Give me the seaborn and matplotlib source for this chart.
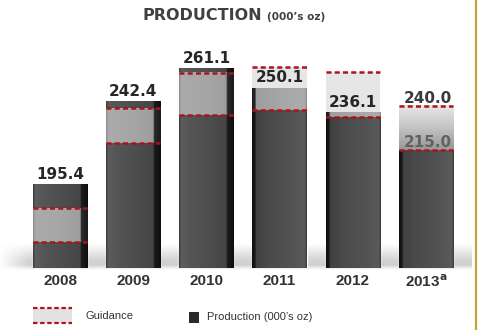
import numpy as np
import pandas as pd
import matplotlib
matplotlib.use("Agg")
import matplotlib.pyplot as plt
from matplotlib.colors import LinearSegmentedColormap
from matplotlib.patches import Rectangle
import seaborn as sns

# ---- data ----
years = ["2008", "2009", "2010", "2011", "2012", r"2013$^{\mathbf{a}}$"]
production = [195.4, 242.4, 261.1, 250.1, 236.1, 215.0]
guidance_low = [163.0, 219.0, 234.7, 237.5, 233.7, 215.0]
guidance_high = [182.2, 238.5, 258.6, 262.0, 259.0, 240.0]
value_labels = ["195.4", "242.4", "261.1", "250.1", "236.1"]
forecast_labels = ["240.0", "215.0"]

sns.set_theme(style="white")
plt.rcParams["font.family"] = ["Liberation Sans", "DejaVu Sans"]

fig = plt.figure(figsize=(4.8, 3.3), dpi=100)
fig.patch.set_facecolor("white")

# background axes in pixel coordinates
bg = fig.add_axes([0, 0, 1, 1], zorder=0)
bg.axis("off")

# floor shadow
shade = LinearSegmentedColormap.from_list(
    "shade", [(0, "#ffffff"), (0.6, "#d4d4d4"), (0.8, "#cfcfcf"), (1, "#ffffff")])
bg.imshow(np.linspace(0, 1, 256).reshape(-1, 1), cmap=shade, extent=(0, 472, 270, 244),
          aspect="auto", origin="upper", interpolation="bilinear", zorder=0)
fade = LinearSegmentedColormap.from_list("fade", [(0, (1, 1, 1, 1)), (1, (1, 1, 1, 0))])
bg.imshow(np.linspace(0, 1, 256).reshape(1, -1), cmap=fade, extent=(0, 30, 270, 244),
          aspect="auto", interpolation="bilinear", zorder=0.5)
bg.set_xlim(0, 480)
bg.set_ylim(330, 0)

# golden rule at right edge
bg.plot([475.5, 475.5], [0, 330], color="#c9a23e", lw=1.6, zorder=1)

# title
bg.text(143, 15, "PRODUCTION", fontsize=11.5, fontweight="bold", color="#404040",
        family="DejaVu Sans", ha="left", va="center")
bg.text(267, 16.5, "(000’s oz)", fontsize=7.5, fontweight="bold", color="#404040",
        family="DejaVu Sans", ha="left", va="center")

# legend (manual)
bg.add_patch(Rectangle((33, 308), 39, 15, facecolor="#e2e2e2", edgecolor="none", zorder=2))
for yy in (308, 323):
    bg.plot([33, 72], [yy, yy], color="#b5121b", lw=1.6, linestyle=(0, (2, 1.2)), zorder=3)
bg.text(85, 316, "Guidance", fontsize=8, color="#333333", ha="left", va="center")
bg.add_patch(Rectangle((189, 312), 10, 11, facecolor="#2b2b2b", edgecolor="none", zorder=2))
bg.text(207, 317, "Production (000’s oz)", fontsize=8, color="#333333", ha="left", va="center")

# main axes
ax = fig.add_axes([0.0488, 0.1879, 0.9146, 0.6909], zorder=1)
ax.set_facecolor("none")
df = pd.DataFrame({"year": years, "production": production})
sns.barplot(data=df, x="year", y="production", color="#4a4a4a", saturation=1,
            width=0.74, ax=ax, zorder=2)

YMIN, YMAX = 148.0, 277.1


def gradient(ax, x0, x1, y0, y1, stops, horizontal=True, zorder=3):
    cmap = LinearSegmentedColormap.from_list("g", stops)
    if horizontal:
        arr = np.linspace(0, 1, 256).reshape(1, -1)
    else:
        arr = np.linspace(0, 1, 256).reshape(-1, 1)
    ax.imshow(arr, cmap=cmap, extent=(x0, x1, y0, y1), aspect="auto", origin="lower",
              interpolation="bilinear", zorder=zorder)


def mirror(stops):
    return [(1 - s, c) for s, c in reversed(stops)]


bar_right = [(0, "#3a3a3a"), (0.04, "#5c5c5c"), (0.2, "#555555"), (0.6, "#4c4c4c"),
             (0.86, "#454545"), (0.88, "#1c1c1c"), (1, "#0e0e0e")]
band_right = [(0, "#8a8a8a"), (0.04, "#ababab"), (0.5, "#a6a6a6"), (0.86, "#9e9e9e"),
              (0.88, "#2a2a2a"), (1, "#1a1a1a")]
bar_left = mirror([(0, "#3a3a3a"), (0.04, "#5a5a5a"), (0.3, "#525252"), (0.7, "#4a4a4a"),
                   (0.93, "#404040"), (0.94, "#1a1a1a"), (1, "#0e0e0e")])
band_left = mirror([(0, "#8a8a8a"), (0.04, "#ababab"), (0.5, "#a6a6a6"), (0.93, "#9e9e9e"),
                    (0.94, "#2a2a2a"), (1, "#1a1a1a")])

patches = list(ax.patches)
for i, p in enumerate(patches):
    x0 = p.get_x()
    w = p.get_width()
    x1 = x0 + w
    top = p.get_height()
    p.set_facecolor("none")
    right_side = i < 3
    gradient(ax, x0, x1, YMIN, top, bar_right if right_side else bar_left, zorder=2)
    lo, hi = guidance_low[i], guidance_high[i]
    if i == len(patches) - 1:
        gradient(ax, x0, x1, lo, hi, [(0, "#979797"), (0.5, "#c4c4c4"), (1, "#e8e8e8")],
                 horizontal=False, zorder=3)
    else:
        inner_top = min(hi, top)
        if inner_top > lo:
            gradient(ax, x0, x1, lo, inner_top, band_right if right_side else band_left,
                     zorder=3)
        outer_lo = max(lo, top)
        if hi > outer_lo:
            ax.add_patch(Rectangle((x0, outer_lo), w, hi - outer_lo, facecolor="#e6e6e6",
                                   edgecolor="none", zorder=3))
    for v in (lo, hi):
        ax.plot([x0, x1], [v, v], color="#b0121b", lw=1.8, linestyle=(0, (2, 1.3)),
                zorder=5, dash_capstyle="butt")
    cx = x0 + w / 2
    if i < len(value_labels):
        ax.annotate(value_labels[i], (cx, top), xytext=(0, 4), textcoords="offset points",
                    ha="center", va="baseline", fontsize=11, fontweight="bold",
                    family="DejaVu Sans", color="#262626", zorder=6)
    else:
        ax.annotate(forecast_labels[0], (cx + 0.03, hi), xytext=(0, 1.5),
                    textcoords="offset points", ha="center", va="baseline", fontsize=11,
                    fontweight="bold", family="DejaVu Sans", color="#3a3a3a", zorder=6)
        ax.annotate(forecast_labels[1], (cx + 0.03, lo), xytext=(0, 2.2),
                    textcoords="offset points", ha="center", va="baseline", fontsize=11,
                    fontweight="bold", family="DejaVu Sans", color="#626262", zorder=6)

ax.set_xlim(-0.5, len(years) - 0.5)
ax.set_ylim(YMIN, YMAX)
ax.set_xlabel("")
ax.set_ylabel("")
ax.set_yticks([])
sns.despine(ax=ax, left=True, bottom=True)
ax.tick_params(axis="x", length=0, pad=4)
for lab in ax.get_xticklabels():
    lab.set_fontsize(11)
    lab.set_fontweight("bold")
    lab.set_color("#333333")
    lab.set_family(["Liberation Sans", "DejaVu Sans"])

fig.savefig("out.png", dpi=100)
